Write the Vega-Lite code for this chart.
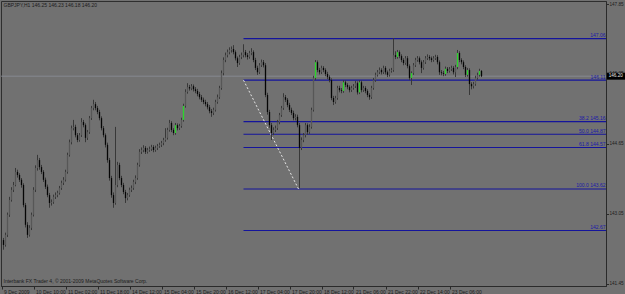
{
  "$schema": "https://vega.github.io/schema/vega-lite/v6.json",
  "width": 605,
  "height": 285,
  "autosize": {"type": "none"},
  "padding": {"left": 1, "top": 1, "right": 19, "bottom": 8},
  "background": "#717171",
  "config": {
    "view": {"stroke": "#2e2e2e", "strokeWidth": 1, "fill": "#717171"},
    "font": "Liberation Sans"
  },
  "datasets": {
    "bars": [
      {"i":1,"o":142.45,"h":142.50,"l":142.23,"c":142.34},
      {"i":2,"o":142.34,"h":142.62,"l":142.30,"c":142.57},
      {"i":3,"o":142.57,"h":143.08,"l":142.52,"c":143.03},
      {"i":4,"o":143.03,"h":143.44,"l":142.98,"c":143.37},
      {"i":5,"o":143.37,"h":143.66,"l":143.33,"c":143.60},
      {"i":6,"o":143.60,"h":143.78,"l":143.55,"c":143.71},
      {"i":7,"o":143.71,"h":144.10,"l":143.68,"c":144.01},
      {"i":8,"o":144.01,"h":144.06,"l":143.88,"c":143.94},
      {"i":9,"o":143.94,"h":143.98,"l":143.78,"c":143.83},
      {"i":10,"o":143.83,"h":143.87,"l":143.65,"c":143.71},
      {"i":11,"o":143.71,"h":143.75,"l":143.20,"c":143.25},
      {"i":12,"o":143.25,"h":143.30,"l":142.74,"c":142.80},
      {"i":13,"o":142.80,"h":142.86,"l":142.50,"c":142.57},
      {"i":14,"o":142.57,"h":142.79,"l":142.53,"c":142.73},
      {"i":15,"o":142.73,"h":143.08,"l":142.68,"c":143.03},
      {"i":16,"o":143.03,"h":143.66,"l":142.99,"c":143.60},
      {"i":17,"o":143.60,"h":144.16,"l":143.55,"c":144.10},
      {"i":18,"o":144.10,"h":144.40,"l":144.04,"c":144.28},
      {"i":19,"o":144.28,"h":144.33,"l":144.06,"c":144.12},
      {"i":20,"o":144.12,"h":144.17,"l":143.96,"c":144.01},
      {"i":21,"o":144.01,"h":144.05,"l":143.78,"c":143.83},
      {"i":22,"o":143.83,"h":143.88,"l":143.62,"c":143.67},
      {"i":23,"o":143.67,"h":143.72,"l":143.43,"c":143.48},
      {"i":24,"o":143.48,"h":143.53,"l":143.19,"c":143.30},
      {"i":25,"o":143.30,"h":143.38,"l":143.24,"c":143.32},
      {"i":26,"o":143.32,"h":143.49,"l":143.28,"c":143.44},
      {"i":27,"o":143.44,"h":143.54,"l":143.39,"c":143.48},
      {"i":28,"o":143.48,"h":143.58,"l":143.43,"c":143.53},
      {"i":29,"o":143.53,"h":143.69,"l":143.49,"c":143.64},
      {"i":30,"o":143.64,"h":143.81,"l":143.60,"c":143.76},
      {"i":31,"o":143.76,"h":143.89,"l":143.71,"c":143.83},
      {"i":32,"o":143.83,"h":144.06,"l":143.79,"c":144.01},
      {"i":33,"o":144.01,"h":144.45,"l":143.97,"c":144.40},
      {"i":34,"o":144.40,"h":144.75,"l":144.36,"c":144.69},
      {"i":35,"o":144.69,"h":145.07,"l":144.64,"c":145.01},
      {"i":36,"o":145.01,"h":145.20,"l":144.96,"c":145.04},
      {"i":37,"o":145.04,"h":145.09,"l":144.80,"c":144.85},
      {"i":38,"o":144.85,"h":144.90,"l":144.69,"c":144.74},
      {"i":39,"o":144.74,"h":144.90,"l":144.70,"c":144.85},
      {"i":40,"o":144.85,"h":145.24,"l":144.81,"c":145.15},
      {"i":41,"o":145.15,"h":145.20,"l":145.03,"c":145.08},
      {"i":42,"o":145.08,"h":145.12,"l":144.69,"c":144.79},
      {"i":43,"o":144.79,"h":144.97,"l":144.74,"c":144.92},
      {"i":44,"o":144.92,"h":145.29,"l":144.88,"c":145.24},
      {"i":45,"o":145.24,"h":145.52,"l":145.20,"c":145.47},
      {"i":46,"o":145.47,"h":145.66,"l":145.42,"c":145.56},
      {"i":47,"o":145.56,"h":145.61,"l":145.42,"c":145.47},
      {"i":48,"o":145.47,"h":145.52,"l":145.33,"c":145.38},
      {"i":49,"o":145.38,"h":145.43,"l":145.19,"c":145.24},
      {"i":50,"o":145.24,"h":145.28,"l":144.96,"c":145.01},
      {"i":51,"o":145.01,"h":145.06,"l":144.80,"c":144.85},
      {"i":52,"o":144.85,"h":144.89,"l":144.57,"c":144.63},
      {"i":53,"o":144.63,"h":144.68,"l":144.22,"c":144.28},
      {"i":54,"o":144.28,"h":144.33,"l":143.81,"c":143.87},
      {"i":55,"o":143.87,"h":143.92,"l":143.42,"c":143.48},
      {"i":56,"o":143.48,"h":143.54,"l":143.19,"c":143.30},
      {"i":57,"o":143.30,"h":145.04,"l":143.26,"c":143.71},
      {"i":58,"o":143.71,"h":144.24,"l":143.66,"c":144.17},
      {"i":59,"o":144.17,"h":144.22,"l":143.82,"c":143.87},
      {"i":60,"o":143.87,"h":143.92,"l":143.66,"c":143.71},
      {"i":61,"o":143.71,"h":143.76,"l":143.50,"c":143.55},
      {"i":62,"o":143.55,"h":143.60,"l":143.30,"c":143.41},
      {"i":63,"o":143.41,"h":143.53,"l":143.36,"c":143.48},
      {"i":64,"o":143.48,"h":143.65,"l":143.44,"c":143.60},
      {"i":65,"o":143.60,"h":143.70,"l":143.55,"c":143.64},
      {"i":66,"o":143.64,"h":143.83,"l":143.60,"c":143.78},
      {"i":67,"o":143.78,"h":143.93,"l":143.73,"c":143.87},
      {"i":68,"o":143.87,"h":144.22,"l":143.83,"c":144.17},
      {"i":69,"o":144.17,"h":144.53,"l":144.13,"c":144.47},
      {"i":70,"o":144.47,"h":144.57,"l":144.42,"c":144.51},
      {"i":71,"o":144.51,"h":144.62,"l":144.46,"c":144.56},
      {"i":72,"o":144.56,"h":144.60,"l":144.42,"c":144.47},
      {"i":73,"o":144.47,"h":144.56,"l":144.43,"c":144.51},
      {"i":74,"o":144.51,"h":144.59,"l":144.47,"c":144.53},
      {"i":75,"o":144.53,"h":144.63,"l":144.49,"c":144.58},
      {"i":76,"o":144.58,"h":144.62,"l":144.46,"c":144.51},
      {"i":77,"o":144.51,"h":144.61,"l":144.47,"c":144.56},
      {"i":78,"o":144.56,"h":144.65,"l":144.51,"c":144.60},
      {"i":79,"o":144.60,"h":144.68,"l":144.56,"c":144.63},
      {"i":80,"o":144.63,"h":144.72,"l":144.58,"c":144.67},
      {"i":81,"o":144.67,"h":144.79,"l":144.62,"c":144.74},
      {"i":82,"o":144.74,"h":145.01,"l":144.70,"c":144.79},
      {"i":83,"o":144.79,"h":145.02,"l":144.75,"c":144.97},
      {"i":84,"o":144.97,"h":145.20,"l":144.93,"c":145.13},
      {"i":85,"o":145.13,"h":145.17,"l":144.92,"c":144.97},
      {"i":86,"o":144.97,"h":145.01,"l":144.85,"c":144.90},
      {"i":87,"o":144.90,"h":145.13,"l":144.86,"c":145.08,"sig":true},
      {"i":88,"o":145.08,"h":145.12,"l":144.96,"c":145.01},
      {"i":89,"o":145.01,"h":145.11,"l":144.97,"c":145.06},
      {"i":90,"o":145.06,"h":145.25,"l":145.02,"c":145.20},
      {"i":91,"o":145.20,"h":145.57,"l":145.16,"c":145.52,"sig":true},
      {"i":92,"o":145.52,"h":145.90,"l":145.48,"c":145.84},
      {"i":93,"o":145.84,"h":146.04,"l":145.80,"c":145.95},
      {"i":94,"o":145.95,"h":146.00,"l":145.87,"c":145.92},
      {"i":95,"o":145.92,"h":146.02,"l":145.88,"c":145.97},
      {"i":96,"o":145.97,"h":146.01,"l":145.85,"c":145.90},
      {"i":97,"o":145.90,"h":145.95,"l":145.81,"c":145.86},
      {"i":98,"o":145.86,"h":145.91,"l":145.74,"c":145.79},
      {"i":99,"o":145.79,"h":145.84,"l":145.67,"c":145.72},
      {"i":100,"o":145.72,"h":145.77,"l":145.61,"c":145.66},
      {"i":101,"o":145.66,"h":145.71,"l":145.56,"c":145.61},
      {"i":102,"o":145.61,"h":145.66,"l":145.51,"c":145.56},
      {"i":103,"o":145.56,"h":145.61,"l":145.44,"c":145.49},
      {"i":104,"o":145.49,"h":145.54,"l":145.35,"c":145.40},
      {"i":105,"o":145.40,"h":145.45,"l":145.27,"c":145.36},
      {"i":106,"o":145.36,"h":145.48,"l":145.31,"c":145.43},
      {"i":107,"o":145.43,"h":145.66,"l":145.39,"c":145.61},
      {"i":108,"o":145.61,"h":145.78,"l":145.57,"c":145.72},
      {"i":109,"o":145.72,"h":145.98,"l":145.68,"c":145.93},
      {"i":110,"o":145.93,"h":146.33,"l":145.89,"c":146.27},
      {"i":111,"o":146.27,"h":146.63,"l":146.22,"c":146.57},
      {"i":112,"o":146.57,"h":146.74,"l":146.52,"c":146.68},
      {"i":113,"o":146.68,"h":146.81,"l":146.63,"c":146.75},
      {"i":114,"o":146.75,"h":146.86,"l":146.70,"c":146.80},
      {"i":115,"o":146.80,"h":146.88,"l":146.74,"c":146.82},
      {"i":116,"o":146.82,"h":146.91,"l":146.70,"c":146.75},
      {"i":117,"o":146.75,"h":146.79,"l":146.56,"c":146.61},
      {"i":118,"o":146.61,"h":146.65,"l":146.41,"c":146.50},
      {"i":119,"o":146.50,"h":146.69,"l":146.46,"c":146.64},
      {"i":120,"o":146.64,"h":146.74,"l":146.59,"c":146.68},
      {"i":121,"o":146.68,"h":146.93,"l":146.63,"c":146.75},
      {"i":122,"o":146.75,"h":146.80,"l":146.63,"c":146.68},
      {"i":123,"o":146.68,"h":146.73,"l":146.58,"c":146.64},
      {"i":124,"o":146.64,"h":146.78,"l":146.60,"c":146.73},
      {"i":125,"o":146.73,"h":146.84,"l":146.68,"c":146.75},
      {"i":126,"o":146.75,"h":146.79,"l":146.52,"c":146.57},
      {"i":127,"o":146.57,"h":146.62,"l":146.34,"c":146.39},
      {"i":128,"o":146.39,"h":146.44,"l":146.23,"c":146.29},
      {"i":129,"o":146.29,"h":146.50,"l":146.25,"c":146.45},
      {"i":130,"o":146.45,"h":146.58,"l":146.41,"c":146.52},
      {"i":131,"o":146.52,"h":146.57,"l":146.40,"c":146.45},
      {"i":132,"o":146.45,"h":146.50,"l":145.72,"c":145.77},
      {"i":133,"o":145.77,"h":145.82,"l":145.32,"c":145.38},
      {"i":134,"o":145.38,"h":145.43,"l":145.02,"c":145.08},
      {"i":135,"o":145.08,"h":145.13,"l":144.74,"c":144.90},
      {"i":136,"o":144.90,"h":145.03,"l":144.85,"c":144.97},
      {"i":137,"o":144.97,"h":145.07,"l":144.92,"c":145.01},
      {"i":138,"o":145.01,"h":145.20,"l":144.97,"c":145.15},
      {"i":139,"o":145.15,"h":145.36,"l":145.10,"c":145.31},
      {"i":140,"o":145.31,"h":145.52,"l":145.27,"c":145.47},
      {"i":141,"o":145.47,"h":145.81,"l":145.43,"c":145.72},
      {"i":142,"o":145.72,"h":145.77,"l":145.61,"c":145.66},
      {"i":143,"o":145.66,"h":145.70,"l":145.49,"c":145.54},
      {"i":144,"o":145.54,"h":145.59,"l":145.38,"c":145.43},
      {"i":145,"o":145.43,"h":145.48,"l":145.31,"c":145.36},
      {"i":146,"o":145.36,"h":145.41,"l":145.19,"c":145.24},
      {"i":147,"o":145.24,"h":145.33,"l":145.19,"c":145.27},
      {"i":148,"o":145.27,"h":145.32,"l":145.03,"c":145.08},
      {"i":149,"o":145.08,"h":145.13,"l":143.64,"c":144.56},
      {"i":150,"o":144.56,"h":144.80,"l":144.51,"c":144.74},
      {"i":151,"o":144.74,"h":144.90,"l":144.69,"c":144.85},
      {"i":152,"o":144.85,"h":145.13,"l":144.80,"c":145.08},
      {"i":153,"o":145.08,"h":145.12,"l":144.86,"c":144.92},
      {"i":154,"o":144.92,"h":145.10,"l":144.88,"c":145.04},
      {"i":155,"o":145.04,"h":145.48,"l":145.00,"c":145.43},
      {"i":156,"o":145.43,"h":146.21,"l":145.39,"c":146.16},
      {"i":157,"o":146.16,"h":146.57,"l":146.11,"c":146.52,"sig":true},
      {"i":158,"o":146.52,"h":146.56,"l":146.29,"c":146.34},
      {"i":159,"o":146.34,"h":146.39,"l":146.24,"c":146.29},
      {"i":160,"o":146.29,"h":146.44,"l":146.25,"c":146.39},
      {"i":161,"o":146.39,"h":146.43,"l":146.29,"c":146.34},
      {"i":162,"o":146.34,"h":146.38,"l":146.20,"c":146.25},
      {"i":163,"o":146.25,"h":146.30,"l":146.13,"c":146.18},
      {"i":164,"o":146.18,"h":146.22,"l":146.06,"c":146.11},
      {"i":165,"o":146.11,"h":146.15,"l":145.65,"c":145.70},
      {"i":166,"o":145.70,"h":145.75,"l":145.54,"c":145.61},
      {"i":167,"o":145.61,"h":145.75,"l":145.57,"c":145.70},
      {"i":168,"o":145.70,"h":145.98,"l":145.66,"c":145.93},
      {"i":169,"o":145.93,"h":145.98,"l":145.83,"c":145.88},
      {"i":170,"o":145.88,"h":145.93,"l":145.81,"c":145.86},
      {"i":171,"o":145.86,"h":146.11,"l":145.82,"c":146.06,"sig":true},
      {"i":172,"o":146.06,"h":146.10,"l":145.95,"c":146.00},
      {"i":173,"o":146.00,"h":146.04,"l":145.90,"c":145.95},
      {"i":174,"o":145.95,"h":145.99,"l":145.83,"c":145.88},
      {"i":175,"o":145.88,"h":145.98,"l":145.84,"c":145.93},
      {"i":176,"o":145.93,"h":146.02,"l":145.89,"c":145.97},
      {"i":177,"o":145.97,"h":146.09,"l":145.93,"c":146.04},
      {"i":178,"o":146.04,"h":146.08,"l":145.78,"c":145.83},
      {"i":179,"o":145.83,"h":146.11,"l":145.79,"c":146.06,"sig":true},
      {"i":180,"o":146.06,"h":146.10,"l":145.83,"c":145.88},
      {"i":181,"o":145.88,"h":145.98,"l":145.84,"c":145.93},
      {"i":182,"o":145.93,"h":145.97,"l":145.81,"c":145.86},
      {"i":183,"o":145.86,"h":145.90,"l":145.72,"c":145.77},
      {"i":184,"o":145.77,"h":145.81,"l":145.66,"c":145.72},
      {"i":185,"o":145.72,"h":145.98,"l":145.68,"c":145.93},
      {"i":186,"o":145.93,"h":146.16,"l":145.89,"c":146.11},
      {"i":187,"o":146.11,"h":146.28,"l":146.07,"c":146.23},
      {"i":188,"o":146.23,"h":146.34,"l":146.19,"c":146.29},
      {"i":189,"o":146.29,"h":146.40,"l":146.25,"c":146.34},
      {"i":190,"o":146.34,"h":146.38,"l":146.24,"c":146.29},
      {"i":191,"o":146.29,"h":146.44,"l":146.25,"c":146.39},
      {"i":192,"o":146.39,"h":146.43,"l":146.24,"c":146.29},
      {"i":193,"o":146.29,"h":146.33,"l":146.18,"c":146.23},
      {"i":194,"o":146.23,"h":146.37,"l":146.19,"c":146.32},
      {"i":195,"o":146.32,"h":146.39,"l":146.28,"c":146.34},
      {"i":196,"o":146.34,"h":147.07,"l":146.30,"c":146.68},
      {"i":197,"o":146.68,"h":146.77,"l":146.59,"c":146.64},
      {"i":198,"o":146.64,"h":146.80,"l":146.60,"c":146.75,"sig":true},
      {"i":199,"o":146.75,"h":146.79,"l":146.61,"c":146.66},
      {"i":200,"o":146.66,"h":146.70,"l":146.52,"c":146.57},
      {"i":201,"o":146.57,"h":146.61,"l":146.45,"c":146.50},
      {"i":202,"o":146.50,"h":146.66,"l":146.46,"c":146.61},
      {"i":203,"o":146.61,"h":146.66,"l":146.38,"c":146.43},
      {"i":204,"o":146.43,"h":146.47,"l":146.11,"c":146.16},
      {"i":205,"o":146.16,"h":146.31,"l":146.00,"c":146.27,"sig":true},
      {"i":206,"o":146.27,"h":146.50,"l":146.23,"c":146.45},
      {"i":207,"o":146.45,"h":146.62,"l":146.41,"c":146.57},
      {"i":208,"o":146.57,"h":146.66,"l":146.53,"c":146.61},
      {"i":209,"o":146.61,"h":146.65,"l":146.47,"c":146.52},
      {"i":210,"o":146.52,"h":146.56,"l":146.27,"c":146.39},
      {"i":211,"o":146.39,"h":146.57,"l":146.35,"c":146.52},
      {"i":212,"o":146.52,"h":146.66,"l":146.48,"c":146.61},
      {"i":213,"o":146.61,"h":146.70,"l":146.57,"c":146.64},
      {"i":214,"o":146.64,"h":146.68,"l":146.56,"c":146.61},
      {"i":215,"o":146.61,"h":146.65,"l":146.52,"c":146.57},
      {"i":216,"o":146.57,"h":146.66,"l":146.53,"c":146.61},
      {"i":217,"o":146.61,"h":146.69,"l":146.57,"c":146.64},
      {"i":218,"o":146.64,"h":146.68,"l":146.47,"c":146.52},
      {"i":219,"o":146.52,"h":146.56,"l":146.23,"c":146.29},
      {"i":220,"o":146.29,"h":146.34,"l":146.22,"c":146.27},
      {"i":221,"o":146.27,"h":146.32,"l":146.20,"c":146.25},
      {"i":222,"o":146.25,"h":146.42,"l":146.21,"c":146.37,"sig":true},
      {"i":223,"o":146.37,"h":146.41,"l":146.27,"c":146.32},
      {"i":224,"o":146.32,"h":146.41,"l":146.28,"c":146.36},
      {"i":225,"o":146.36,"h":146.44,"l":146.32,"c":146.39},
      {"i":226,"o":146.39,"h":146.43,"l":146.24,"c":146.29},
      {"i":227,"o":146.29,"h":146.46,"l":146.18,"c":146.41},
      {"i":228,"o":146.41,"h":146.80,"l":146.36,"c":146.73,"sig":true},
      {"i":229,"o":146.73,"h":146.77,"l":146.52,"c":146.57},
      {"i":230,"o":146.57,"h":146.61,"l":146.47,"c":146.52},
      {"i":231,"o":146.52,"h":146.56,"l":146.36,"c":146.41},
      {"i":232,"o":146.41,"h":146.45,"l":146.18,"c":146.23},
      {"i":233,"o":146.23,"h":146.39,"l":146.19,"c":146.34,"sig":true},
      {"i":234,"o":146.34,"h":146.38,"l":145.77,"c":146.02},
      {"i":235,"o":146.02,"h":146.06,"l":145.90,"c":145.97},
      {"i":236,"o":145.97,"h":146.07,"l":145.92,"c":146.02},
      {"i":237,"o":146.02,"h":146.21,"l":145.98,"c":146.16},
      {"i":238,"o":146.16,"h":146.28,"l":146.12,"c":146.23},
      {"i":239,"o":146.23,"h":146.37,"l":146.19,"c":146.32,"sig":true},
      {"i":240,"o":146.32,"h":146.34,"l":146.18,"c":146.20}
    ],
    "fib": [
      {"level":147.06,"label":"147.06"},
      {"level":146.11,"label":"146.11"},
      {"level":145.16,"label":"38.2 145.16"},
      {"level":144.87,"label":"50.0 144.87"},
      {"level":144.57,"label":"61.8 144.57"},
      {"level":143.62,"label":"100.0 143.62"},
      {"level":142.67,"label":"142.67"}
    ],
    "trend": [
      {"i":121,"p":146.11},
      {"i":148.5,"p":143.62}
    ]
  },
  "layer": [
    {
      "data": {"values": [{"p": 146.20}]},
      "mark": {"type": "rule", "color": "#8d8f99", "strokeWidth": 0.8},
      "encoding": {
        "y": {"field": "p", "type": "quantitative", "title": null,
          "scale": {"domain": [141.40, 147.92], "nice": false, "zero": false},
          "axis": {
            "orient": "right",
            "values": [141.45,141.85,142.25,142.65,143.05,143.45,143.85,144.25,144.65,145.05,145.45,145.85,146.25,146.65,147.05,147.45,147.85],
            "format": ".2f",
            "labelFontSize": 4.6,
            "labelColor": "#1c1c1c",
            "labelPadding": 0.5,
            "tickSize": 2.5,
            "tickColor": "#2a2a2a",
            "domainColor": "#2a2a2a",
            "grid": false,
            "labelFlush": false,
            "labelOverlap": false
          }
        }
      }
    },
    {
      "data": {"name": "fib"},
      "mark": {"type": "rule", "color": "#14149c", "strokeWidth": 1.1},
      "encoding": {
        "x": {"datum": 121, "type": "quantitative",
          "scale": {"domain": [-0.25, 302.25], "nice": false, "zero": false},
          "axis": {
            "values": [0,16,32,48,64,80,96,112,128,144,160,176,192,208,224],
            "labelExpr": "['9 Dec 2009','10 Dec 10:00','11 Dec 02:00','11 Dec 18:00','14 Dec 12:00','15 Dec 04:00','15 Dec 20:00','16 Dec 12:00','17 Dec 04:00','17 Dec 20:00','18 Dec 12:00','21 Dec 06:00','21 Dec 22:00','22 Dec 14:00','23 Dec 06:00'][round(datum.value/16)]",
            "labelAlign": "left",
            "labelBaseline": "top",
            "labelOffset": 2,
            "labelPadding": 0,
            "labelFontSize": 5,
            "labelColor": "#1c1c1c",
            "tickSize": 3,
            "tickColor": "#2a2a2a",
            "domainColor": "#2a2a2a",
            "grid": false,
            "labelFlush": false,
            "labelOverlap": false,
            "title": null
          }
        },
        "x2": {"datum": 302.25},
        "y": {"field": "level", "type": "quantitative", "title": null}
      }
    },
    {
      "data": {"name": "fib"},
      "mark": {"type": "text", "align": "right", "baseline": "bottom", "dy": -0.5, "fontSize": 5, "color": "#1a1aa8"},
      "encoding": {
        "x": {"datum": 302, "type": "quantitative"},
        "y": {"field": "level", "type": "quantitative", "title": null},
        "text": {"field": "label"}
      }
    },
    {
      "data": {"name": "trend"},
      "mark": {"type": "line", "color": "#e6e6e6", "strokeWidth": 1, "strokeDash": [2, 2]},
      "encoding": {
        "x": {"field": "i", "type": "quantitative", "title": null},
        "y": {"field": "p", "type": "quantitative", "title": null}
      }
    },
    {
      "data": {"name": "bars"},
      "mark": {"type": "rule", "color": "#383838", "strokeWidth": 1},
      "encoding": {
        "x": {"field": "i", "type": "quantitative", "title": null},
        "y": {"field": "l", "type": "quantitative", "title": null},
        "y2": {"field": "h"}
      }
    },
    {
      "data": {"name": "bars"},
      "mark": {"type": "rule", "strokeWidth": 1.3},
      "encoding": {
        "x": {"field": "i", "type": "quantitative", "title": null},
        "y": {"field": "o", "type": "quantitative", "title": null},
        "y2": {"field": "c"},
        "color": {
          "condition": [
            {"test": "datum.sig === true", "value": "#2bd62b"},
            {"test": "datum.c < datum.o", "value": "#050505"}
          ],
          "value": "#575757"
        }
      }
    },
    {
      "data": {"values": [{"t": "GBPJPY,H1  146.25 146.23 146.18 146.20"}]},
      "mark": {"type": "text", "align": "left", "baseline": "middle", "fontSize": 5, "color": "#1c1c1c"},
      "encoding": {
        "x": {"datum": 1, "type": "quantitative"},
        "y": {"datum": 147.82, "type": "quantitative"},
        "text": {"field": "t"}
      }
    },
    {
      "data": {"values": [{"t": "Interbank FX Trader 4, © 2001-2009 MetaQuotes Software Corp."}]},
      "mark": {"type": "text", "align": "left", "baseline": "middle", "fontSize": 5, "color": "#1c1c1c"},
      "encoding": {
        "x": {"datum": 1, "type": "quantitative"},
        "y": {"datum": 141.52, "type": "quantitative"},
        "text": {"field": "t"}
      }
    },
    {
      "data": {"values": [{"p": 146.20}]},
      "mark": {"type": "rect", "color": "#000000", "zindex": 2},
      "encoding": {
        "x": {"datum": 302.7, "type": "quantitative"},
        "x2": {"datum": 312.3},
        "y": {"datum": 146.28, "type": "quantitative"},
        "y2": {"datum": 146.12}
      }
    },
    {
      "data": {"values": [{"p": 146.20, "t": "146.20"}]},
      "mark": {"type": "text", "align": "left", "baseline": "middle", "fontSize": 4.6, "color": "#e8e8e8", "zindex": 3},
      "encoding": {
        "x": {"datum": 303.6, "type": "quantitative"},
        "y": {"field": "p", "type": "quantitative", "title": null},
        "text": {"field": "t"}
      }
    }
  ]
}
